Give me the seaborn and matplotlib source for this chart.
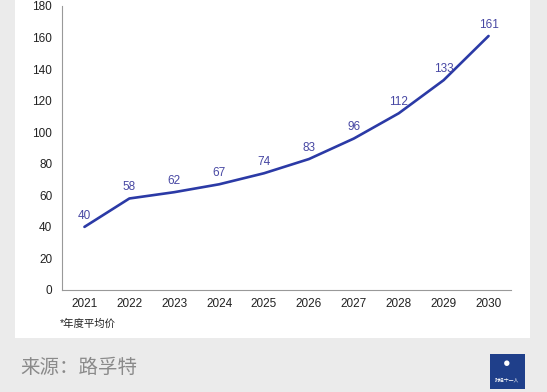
import numpy as np
import pandas as pd
import seaborn as sns
import matplotlib.pyplot as plt
from matplotlib.patches import Rectangle

# 数据：年度平均价
years = ['2021', '2022', '2023', '2024', '2025', '2026', '2027', '2028', '2029', '2030']
prices = [40, 58, 62, 67, 74, 83, 96, 112, 133, 161]
y_ticks = [0, 20, 40, 60, 80, 100, 120, 140, 160, 180]

sns.set_style('white')
plt.rcParams['font.family'] = ['Liberation Sans', 'Noto Sans CJK SC']

W, H = 547, 392
fig = plt.figure(figsize=(W / 100, H / 100), dpi=100)
fig.patch.set_facecolor('#ebebeb')

# 白色面板（放在坐标轴后面）
fig.patches.append(Rectangle((15 / W, 1 - 338 / H), (530 - 15) / W, 338 / H,
                             transform=fig.transFigure, facecolor='white',
                             edgecolor='none', zorder=-10))

ax = fig.add_axes([62 / W, 1 - 290 / H, (511 - 62) / W, (290 - 6) / H])
ax.set_facecolor('none')
ax.set_zorder(5)

df = pd.DataFrame({'idx': np.arange(len(years)), 'price': prices})
sns.lineplot(data=df, x='idx', y='price', ax=ax, color='#2b3aa6', linewidth=1.9)

for i, v in enumerate(prices):
    ax.annotate(str(v), (i, v), textcoords='offset points', xytext=(0, 8),
                ha='center', va='center', fontsize=8.5, color='#4747a3')

ax.set_xlim(-0.5, len(years) - 0.5)
ax.set_ylim(0, 180)
ax.set_yticks(y_ticks)
ax.set_xticks(np.arange(len(years)))
ax.set_xticklabels(years)
ax.set_xticks(np.arange(len(years)) + 0.5, minor=True)
ax.tick_params(axis='x', which='major', length=0, labelsize=8.5, colors='#222222', pad=6)
ax.tick_params(axis='x', which='minor', length=3, direction='in', color='#999999')
ax.tick_params(axis='y', length=3, direction='in', labelsize=8.5, colors='#222222', pad=7)
ax.tick_params(axis='y', color='#999999')
ax.set_xlabel('')
ax.set_ylabel('')
for s in ['top', 'right']:
    ax.spines[s].set_visible(False)
for s in ['left', 'bottom']:
    ax.spines[s].set_color('#999999')
    ax.spines[s].set_linewidth(0.8)

fig.text(60 / W, 1 - 324 / H, '*年度平均价', fontsize=7.5, color='#222222',
         ha='left', va='center')
fig.text(20 / W, 1 - 368 / H, '来源：路孚特', fontsize=14, color='#8a8a8a',
         ha='left', va='center')

# 右下角标志
fig.patches.append(Rectangle((490 / W, 1 - 389 / H), 35 / W, 35 / H,
                             transform=fig.transFigure, facecolor='#1f3f8a',
                             edgecolor='none', zorder=1))
fig.text(507 / W, 1 - 364 / H, '●', fontsize=9, color='white', ha='center', va='center')
fig.text(507 / W, 1 - 380 / H, '财经十一人', fontsize=3.5, color='white',
         ha='center', va='center')

fig.savefig('out.png', dpi=100, facecolor=fig.get_facecolor())
